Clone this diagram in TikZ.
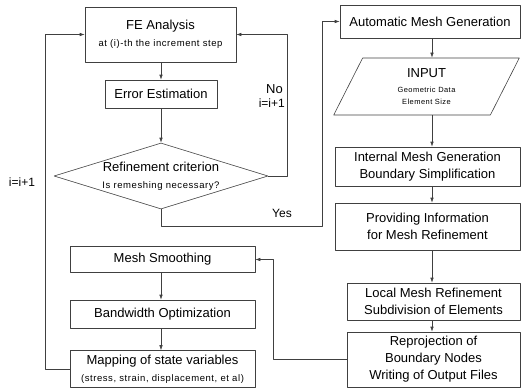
\documentclass[tikz,border=0pt]{standalone}
\usepackage{fontspec}
\setmainfont{Liberation Sans}
\newfontfamily\widefont[LetterSpace=6]{Liberation Sans}
\usetikzlibrary{shapes.geometric,arrows.meta}
\newcommand{\subtxt}[1]{{\widefont\fontsize{9.5}{12}\selectfont #1}}
\newcommand{\tinytxt}[1]{{\widefont\fontsize{7.5}{10}\selectfont #1}}
\tikzset{
  box/.style={draw=black!75, line width=0.6pt, rectangle, inner sep=1pt, align=center},
  flow/.style={draw=black!75, line width=0.6pt, ->},
  tag/.style={inner sep=0pt, font=\fontsize{12}{14}\selectfont}
}
\begin{document}
\begin{tikzpicture}[x=1pt, y=-1pt, font=\fontsize{13}{17}\selectfont, line join=round, line cap=round, >={Latex[length=5pt,width=3.5pt]}]
	\useasboundingbox (0,0) rectangle (523,389);
	\coordinate (lx) at (161,0);
	\coordinate (rx) at (432,0);
	\coordinate (nox) at (287,0);
	\coordinate (yesturn) at (322,226);
	\coordinate (backx) at (273,0);
	\coordinate (loopx) at (45,0);
	% left column
	\node[box, minimum width=151pt, minimum height=55pt] (fe) at (160.5,34.5) {FE Analysis\\\subtxt{at (i)-th the increment step}};
	\node[box, minimum width=112pt, minimum height=28pt] (err) at (161,94) {Error Estimation};
	\node[draw=black!75, line width=0.6pt, diamond, aspect=3.24, inner sep=0pt, minimum width=214pt, minimum height=66pt, align=center] (crit) at (161,176) {Refinement criterion\\\subtxt{Is remeshing necessary?}};
	\node[box, minimum width=185pt, minimum height=26pt] (smooth) at (162.5,259.5) {Mesh Smoothing};
	\node[box, minimum width=185pt, minimum height=28pt] (band) at (162.5,314) {Bandwidth Optimization};
	\node[box, minimum width=185pt, minimum height=37pt] (map) at (162.5,369) {Mapping of state variables\\\subtxt{(stress, strain, displacement, et al)}};
	% right column
	\node[box, minimum width=180pt, minimum height=33pt] (auto) at (430,21.5) {Automatic Mesh Generation};
	\node[draw=black!75, line width=0.6pt, trapezium, trapezium left angle=70, trapezium right angle=110, trapezium stretches=true, inner sep=0pt, minimum width=187pt, minimum height=57pt, align=center] (input) at (426.5,86.5) {INPUT\\[-2pt]\tinytxt{Geometric Data}\\[-5pt]\tinytxt{Element Size}};
	\node[box, minimum width=185pt, minimum height=39pt] (internal) at (427.5,166.5) {Internal Mesh Generation\\Boundary Simplification};
	\node[box, minimum width=185pt, minimum height=47pt] (prov) at (427.5,226.5) {Providing Information\\for Mesh Refinement};
	\node[box, minimum width=173pt, minimum height=37pt] (local) at (433.5,301.5) {Local Mesh Refinement\\Subdivision of Elements};
	\node[box, minimum width=173pt, minimum height=55pt] (repro) at (433.5,359.5) {Reprojection of\\Boundary Nodes\\Writing of Output Files};
	% labels
	\node[tag, anchor=east] (no) at (283,89) {\fontsize{13}{15}\selectfont No};
	\node[tag, anchor=east] (noinc) at (285,103) {i=i+1};
	\node[tag] (yes) at (282,213) {Yes};
	\node[tag] (loopinc) at (22,182) {i=i+1};
	% connectors
	\draw[flow] (fe.south -| lx) -- (err.north -| lx);
	\draw[flow] (err.south -| lx) -- (crit.north);
	\draw[flow] (crit.east) -- (crit.east -| nox) |- (fe.east);
	\draw[flow] (crit.south) |- (yesturn) |- (auto.west);
	\draw[flow] (smooth.south -| lx) -- (band.north -| lx);
	\draw[flow] (band.south -| lx) -- (map.north -| lx);
	\draw[flow] (map.west) -- (map.west -| loopx) |- (fe.west);
	\draw[flow] (auto.south -| rx) -- (input.north -| rx);
	\draw[flow] (input.south -| rx) -- (internal.north -| rx);
	\draw[flow] (internal.south -| rx) -- (prov.north -| rx);
	\draw[flow] (prov.south -| rx) -- (local.north -| rx);
	\draw[flow] (local.south -| rx) -- (repro.north -| rx);
	\draw[flow] (repro.west) -- (repro.west -| backx) |- (smooth.east);
\end{tikzpicture}
\end{document}
